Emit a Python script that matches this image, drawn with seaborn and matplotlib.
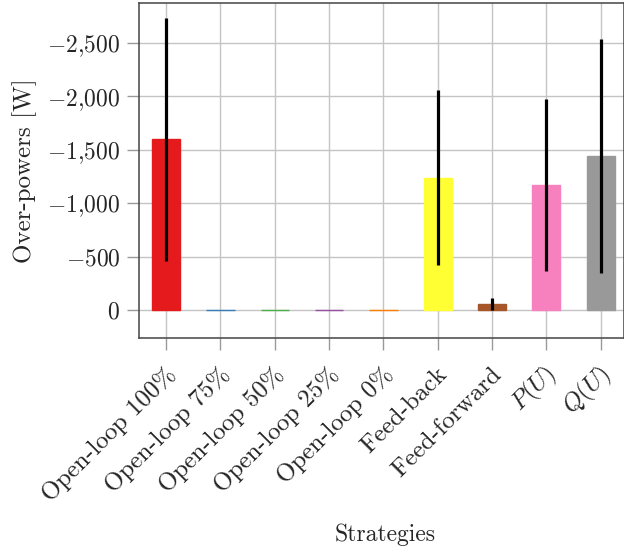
import matplotlib
matplotlib.use("Agg")
import matplotlib.pyplot as plt
import matplotlib.ticker as mticker
import matplotlib.transforms as mtransforms
import pandas as pd
import seaborn as sns

# ==========================
# DADOS
# ==========================

strategies = [
    "Open-loop 100%",
    "Open-loop 75%",
    "Open-loop 50%",
    "Open-loop 25%",
    "Open-loop 0%",
    "Feed-back",
    "Feed-forward",
    "$P(U)$",
    "$Q(U)$",
]
over_powers = [-1597, 0, 0, 0, 0, -1240, -57, -1173, -1441]
errors = [1137, 0, 0, 0, 0, 820, 58, 805, 1099]

colors = sns.color_palette("Set1", 9)

# ==========================
# ESTILO
# ==========================

sns.set_style("whitegrid")
plt.rcParams["font.family"] = ["cmr10", "DejaVu Serif"]
plt.rcParams["mathtext.fontset"] = "cm"
plt.rcParams["axes.unicode_minus"] = True
plt.rcParams["axes.formatter.use_mathtext"] = True

df = pd.DataFrame({"strategy": strategies, "power": over_powers})

fig = plt.figure(figsize=(6.24, 5.5), dpi=100)
ax = fig.add_axes([0.2228, 0.3855, 0.7772, 0.609])

sns.barplot(
    data=df,
    x="strategy",
    y="power",
    hue="strategy",
    palette=colors,
    saturation=1,
    legend=False,
    width=0.52,
    linewidth=1,
    ax=ax,
)
for patch, c in zip(ax.patches, colors):
    patch.set_edgecolor(c)

ax.errorbar(
    range(len(strategies)),
    over_powers,
    yerr=errors,
    fmt="none",
    ecolor="black",
    elinewidth=2.3,
    capsize=0,
    zorder=5,
)

ax.set_ylim(262, -2874)
ax.set_xlim(-0.5, 8.43)
ax.yaxis.set_major_locator(mticker.MultipleLocator(500))
ax.yaxis.set_major_formatter(
    mticker.FuncFormatter(
        lambda v, p: "$" + f"{v:,.0f}".replace(",", "{,}") + "$"
    )
)

ax.grid(True, color="#c4c4c4", linewidth=1)
ax.set_axisbelow(True)
for s in ax.spines.values():
    s.set_color("#444444")
    s.set_linewidth(1.1)

ax.tick_params(axis="both", direction="out", length=8.5, width=1,
               color="#999999", left=True, bottom=True)
ax.tick_params(axis="y", labelsize=17, pad=5)
ax.tick_params(axis="x", labelsize=18, pad=15.5)
shift = mtransforms.ScaledTranslation(4.5 / 72, 0, fig.dpi_scale_trans)
for lbl in ax.get_xticklabels():
    lbl.set_rotation(45)
    lbl.set_ha("right")
    lbl.set_va("center")
    lbl.set_rotation_mode("anchor")
    lbl.set_transform(lbl.get_transform() + shift)

ax.set_xlabel("Strategies", fontsize=17, va="center")
ax.set_ylabel("Over-powers [W]", fontsize=18, va="center")
ax.xaxis.set_label_coords(0.507, -0.588)
ax.yaxis.set_label_coords(-0.235, 0.4985)

fig.savefig("out.png", dpi=100)
